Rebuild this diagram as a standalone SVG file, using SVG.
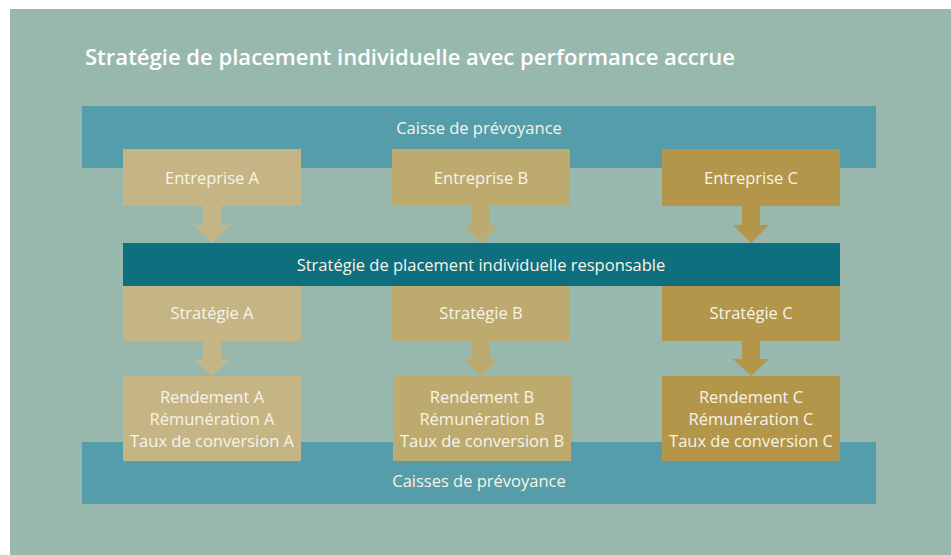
<svg xmlns="http://www.w3.org/2000/svg" width="951" height="555" viewBox="0 0 951 555">
<style>
.t{font-family:"Open Sans","Noto Sans",sans-serif;fill:#F8F4E6;text-anchor:middle;font-size:16.5px}
.title{font-family:"Open Sans","Noto Sans",sans-serif;fill:#FFFFFF;font-size:22px;font-weight:600}
.band{fill:#559DAA}
.bar{fill:#0E707E}
.a{fill:#C5B585}
.b{fill:#BDAA6E}
.c{fill:#B3964A}
</style>
<rect x="0" y="0" width="951" height="555" fill="#FFFFFF"/>
<rect x="10" y="9" width="941" height="546" fill="#98B8AD"/>
<text class="title" x="85" y="65" textLength="650" lengthAdjust="spacingAndGlyphs">Stratégie de placement individuelle avec performance accrue</text>

<g id="caisse-top">
<rect class="band" x="82" y="106" width="794" height="62"/>
<text class="t" x="479" y="134">Caisse de prévoyance</text>
</g>
<g id="caisses-bottom">
<rect class="band" x="82" y="442" width="794" height="62"/>
<text class="t" x="479" y="487">Caisses de prévoyance</text>
</g>

<g id="connectors">
<path class="a" d="M203,206 H221 V225 H230 L212,243 L194,225 H203 Z"/>
<path class="b" d="M472,206 H490 V225 H499 L481,243 L463,225 H472 Z"/>
<path class="c" d="M742,206 H760 V225 H769 L751,243 L733,225 H742 Z"/>
<path class="a" d="M203,341 H221 V359 H230 L212,376 L194,359 H203 Z"/>
<path class="b" d="M472,341 H490 V359 H499 L481,376 L463,359 H472 Z"/>
<path class="c" d="M742,341 H760 V359 H769 L751,376 L733,359 H742 Z"/>
</g>

<g id="entreprise-a"><rect class="a" x="123" y="149" width="178" height="57"/><text class="t" x="212" y="184">Entreprise A</text></g>
<g id="entreprise-b"><rect class="b" x="392" y="149" width="178" height="57"/><text class="t" x="481" y="184">Entreprise B</text></g>
<g id="entreprise-c"><rect class="c" x="662" y="149" width="178" height="57"/><text class="t" x="751" y="184">Entreprise C</text></g>

<g id="strategie-responsable"><rect class="bar" x="123" y="243" width="717" height="43"/><text class="t" x="481" y="270.5">Stratégie de placement individuelle responsable</text></g>

<g id="strategie-a"><rect class="a" x="123" y="286" width="178" height="55"/><text class="t" x="212" y="319">Stratégie A</text></g>
<g id="strategie-b"><rect class="b" x="392" y="286" width="178" height="55"/><text class="t" x="481" y="319">Stratégie B</text></g>
<g id="strategie-c"><rect class="c" x="662" y="286" width="178" height="55"/><text class="t" x="751" y="319">Stratégie C</text></g>

<g id="resultat-a"><rect class="a" x="123" y="376" width="178" height="85"/>
<text class="t" x="212" y="403">Rendement A</text><text class="t" x="212" y="425">Rémunération A</text><text class="t" x="212" y="447">Taux de conversion A</text></g>
<g id="resultat-b"><rect class="b" x="393" y="376" width="178" height="85"/>
<text class="t" x="482" y="403">Rendement B</text><text class="t" x="482" y="425">Rémunération B</text><text class="t" x="482" y="447">Taux de conversion B</text></g>
<g id="resultat-c"><rect class="c" x="662" y="376" width="178" height="85"/>
<text class="t" x="751" y="403">Rendement C</text><text class="t" x="751" y="425">Rémunération C</text><text class="t" x="751" y="447">Taux de conversion C</text></g>
</svg>
